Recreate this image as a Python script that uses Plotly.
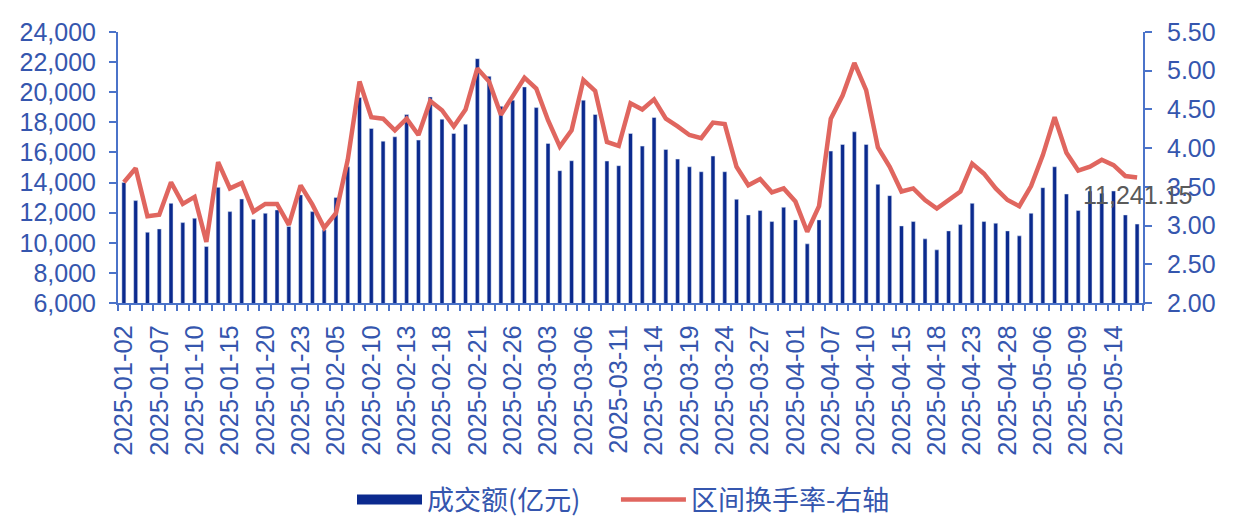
import plotly.graph_objects as go

dates = [
    "2025-01-02", "2025-01-03", "2025-01-06", "2025-01-07", "2025-01-08", "2025-01-09",
    "2025-01-10", "2025-01-13", "2025-01-14", "2025-01-15", "2025-01-16", "2025-01-17",
    "2025-01-20", "2025-01-21", "2025-01-22", "2025-01-23", "2025-01-24", "2025-01-27",
    "2025-02-05", "2025-02-06", "2025-02-07", "2025-02-10", "2025-02-11", "2025-02-12",
    "2025-02-13", "2025-02-14", "2025-02-17", "2025-02-18", "2025-02-19", "2025-02-20",
    "2025-02-21", "2025-02-24", "2025-02-25", "2025-02-26", "2025-02-27", "2025-02-28",
    "2025-03-03", "2025-03-04", "2025-03-05", "2025-03-06", "2025-03-07", "2025-03-10",
    "2025-03-11", "2025-03-12", "2025-03-13", "2025-03-14", "2025-03-17", "2025-03-18",
    "2025-03-19", "2025-03-20", "2025-03-21", "2025-03-24", "2025-03-25", "2025-03-26",
    "2025-03-27", "2025-03-28", "2025-03-31", "2025-04-01", "2025-04-02", "2025-04-03",
    "2025-04-07", "2025-04-08", "2025-04-09", "2025-04-10", "2025-04-11", "2025-04-14",
    "2025-04-15", "2025-04-16", "2025-04-17", "2025-04-18", "2025-04-21", "2025-04-22",
    "2025-04-23", "2025-04-24", "2025-04-25", "2025-04-28", "2025-04-29", "2025-04-30",
    "2025-05-06", "2025-05-07", "2025-05-08", "2025-05-09", "2025-05-12", "2025-05-13",
    "2025-05-14", "2025-05-15", "2025-05-16",
]

amount = [
    14000, 12800, 10700, 10920, 12620, 11340, 11630, 9750, 13680, 12070,
    12910, 11560, 11960, 12180, 11080, 13180, 12070, 10860, 13000, 15050,
    19650, 17590, 16750, 17040, 18520, 16820, 19690, 18210, 17260, 17880,
    22230, 21060, 19070, 19470, 20350, 18980, 16600, 14790, 15450, 19470,
    18520, 15430, 15120, 17260, 16420, 18320, 16200, 15560, 15050, 14720,
    15760, 14720, 12890, 11850, 12140, 11410, 12360, 11520, 9930, 11520,
    16090, 16530, 17370, 16530, 13880, 13130, 11120, 11410, 10260, 9530,
    10790, 11210, 12620, 11410, 11300, 10790, 10460, 11960, 13660, 15050,
    13240, 12140, 13440, 13290, 13440, 11850, 11241.15,
]

turnover = [
    3.56, 3.74, 3.12, 3.14, 3.56, 3.28, 3.37, 2.79, 3.82, 3.48,
    3.55, 3.18, 3.28, 3.28, 3.01, 3.52, 3.27, 2.97, 3.16, 3.85,
    4.86, 4.40, 4.38, 4.23, 4.38, 4.17, 4.61, 4.49, 4.28, 4.50,
    5.03, 4.86, 4.43, 4.68, 4.91, 4.77, 4.36, 4.02, 4.23, 4.88,
    4.74, 4.08, 4.03, 4.58, 4.50, 4.63, 4.38, 4.28, 4.17, 4.13,
    4.33, 4.31, 3.76, 3.52, 3.60, 3.43, 3.48, 3.31, 2.92, 3.25,
    4.38, 4.68, 5.10, 4.75, 4.01, 3.76, 3.44, 3.48, 3.33, 3.22,
    3.33, 3.44, 3.80, 3.67, 3.48, 3.33, 3.25, 3.51, 3.91, 4.40,
    3.94, 3.71, 3.76, 3.85, 3.78, 3.64, 3.62,
]

bar_name = "成交额(亿元)"
line_name = "区间换手率-右轴"

BAR_COLOR = "#0B2A8E"
LINE_COLOR = "#E0665F"
AXIS_COLOR = "#4B73C9"
TEXT_COLOR = "#3556AE"
FONT = "Liberation Sans, Arial, sans-serif"
CJK = "Noto Sans CJK SC, sans-serif"

tick_text = [d if i % 3 == 0 else "" for i, d in enumerate(dates)]

fig = go.Figure()
fig.add_trace(go.Bar(x=dates, y=amount, name=bar_name, marker_color=BAR_COLOR,
                     width=0.34, yaxis="y", showlegend=False))
fig.add_trace(go.Scatter(x=dates, y=turnover, name=line_name, mode="lines",
                         line=dict(color=LINE_COLOR, width=4.5), yaxis="y2",
                         showlegend=False))
# legend entries (one legend box per entry for exact placement)
fig.add_trace(go.Scatter(x=[None], y=[None], name=bar_name, mode="lines",
                         line=dict(color=BAR_COLOR, width=12), yaxis="y",
                         legend="legend"))
fig.add_trace(go.Scatter(x=[None], y=[None], name=line_name, mode="lines",
                         line=dict(color=LINE_COLOR, width=4.5), yaxis="y2",
                         legend="legend2"))

fig.add_annotation(x=dates[-1], y=amount[-1], yref="y", text=f"{amount[-1]:,.2f}",
                   showarrow=False, yshift=29,
                   font=dict(family=FONT, size=25, color="#5A5A5A"))

legend_style = dict(
    orientation="h", xanchor="left", yanchor="middle",
    yref="container", y=0.0629,
    font=dict(family=CJK, size=27, color=TEXT_COLOR),
    itemwidth=65, bgcolor="rgba(0,0,0,0)",
)

fig.update_layout(
    width=1236, height=525,
    margin=dict(l=110, r=101, t=24, b=230),
    paper_bgcolor="white", plot_bgcolor="white",
    xaxis=dict(
        type="category", tickmode="array", tickvals=dates, ticktext=tick_text,
        tickangle=-90, tickson="boundaries", ticks="outside", ticklen=6,
        tickcolor=AXIS_COLOR, tickwidth=1.5,
        showline=True, linecolor=AXIS_COLOR, linewidth=2,
        showgrid=False, range=[-0.5, len(dates) - 0.5],
        tickfont=dict(family=FONT, size=25.5, color=TEXT_COLOR),
        ticklabelstandoff=10, automargin=False,
    ),
    yaxis=dict(
        range=[6000, 24000], dtick=2000, tickformat=",",
        showline=True, linecolor=AXIS_COLOR, linewidth=2,
        ticks="outside", ticklen=7, tickcolor=AXIS_COLOR, tickwidth=1.5,
        showgrid=False, zeroline=False,
        tickfont=dict(family=FONT, size=25, color=TEXT_COLOR),
        ticklabelstandoff=8, automargin=False,
    ),
    yaxis2=dict(
        range=[2, 5.5], dtick=0.5, tickformat=".2f", overlaying="y", side="right",
        showline=True, linecolor=AXIS_COLOR, linewidth=2,
        ticks="outside", ticklen=7, tickcolor=AXIS_COLOR, tickwidth=1.5,
        showgrid=False, zeroline=False,
        tickfont=dict(family=FONT, size=25, color=TEXT_COLOR),
        ticklabelstandoff=10, automargin=False,
    ),
    legend=dict(x=0.2283, **legend_style),
    legend2=dict(x=0.4858, **legend_style),
)

fig.write_html("out.html")
